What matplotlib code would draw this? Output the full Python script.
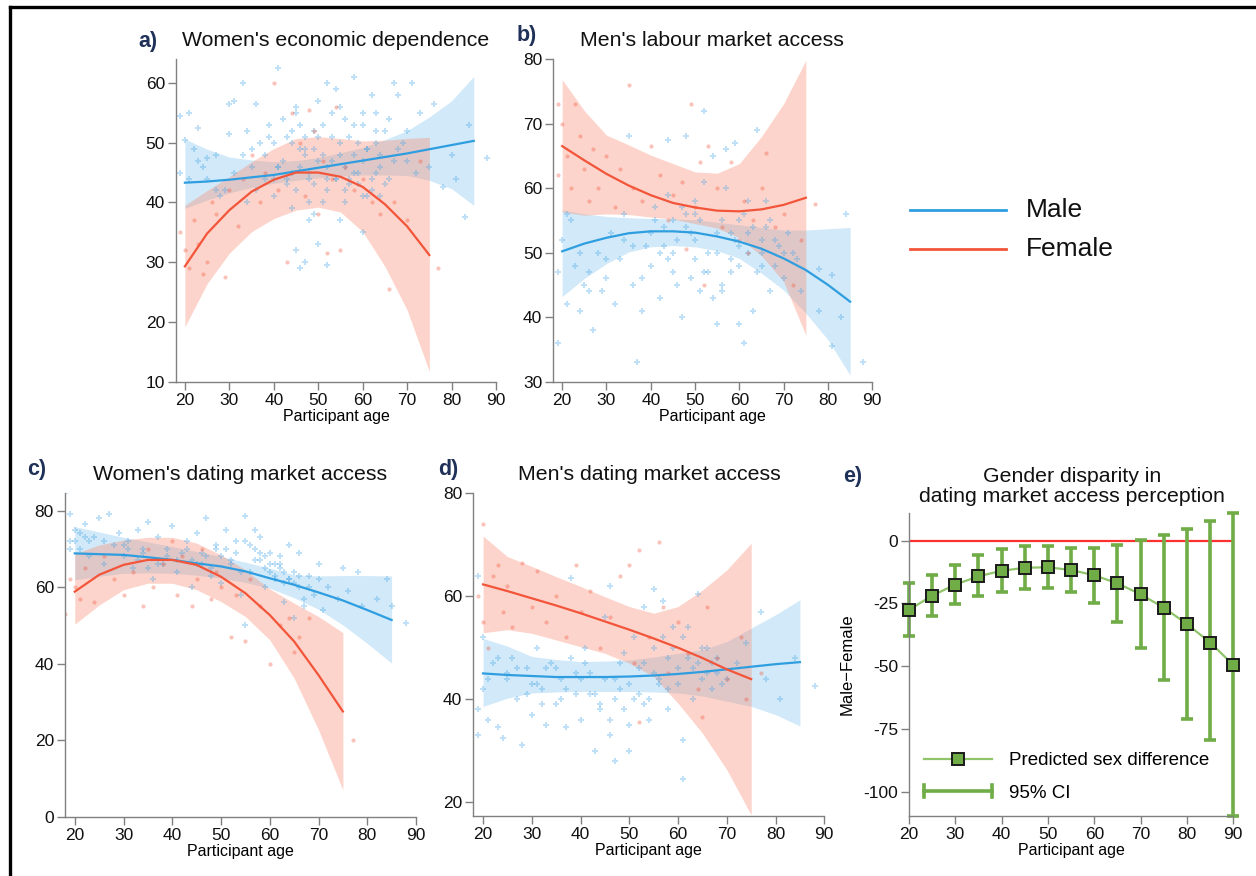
import matplotlib
matplotlib.use("Agg")
import matplotlib.pyplot as plt
from matplotlib.lines import Line2D
from matplotlib.legend_handler import HandlerBase
import numpy as np

plt.rcParams['font.family'] = ['Liberation Sans', 'DejaVu Sans']
plt.rcParams['axes.unicode_minus'] = False

# ---------------- data ----------------
ages_m = [20, 25, 30, 35, 40, 45, 50, 55, 60, 65, 70, 75, 80, 85]
ages_f = [20, 25, 30, 35, 40, 45, 50, 55, 60, 65, 70, 75]

# a) Women's economic dependence
a_m_fit = [43.3, 43.5, 43.8, 44.2, 44.6, 45.2, 45.8, 46.4, 47.0, 47.6, 48.2, 48.9, 49.6, 50.3]
a_m_lo = [39.0, 40.4, 41.6, 42.5, 43.2, 43.7, 44.1, 44.4, 44.6, 44.6, 44.5, 43.7, 42.3, 39.5]
a_m_hi = [50.6, 48.9, 47.6, 47.1, 46.8, 47.0, 47.5, 48.3, 49.2, 50.5, 52.0, 54.3, 57.0, 61.1]
a_f_fit = [29.3, 34.8, 38.7, 41.8, 43.8, 45.0, 45.0, 44.3, 42.6, 39.7, 36.0, 31.2]
a_f_lo = [19.2, 26.4, 31.5, 35.1, 37.3, 38.7, 39.2, 38.4, 35.1, 29.3, 22.0, 11.7]
a_f_hi = [39.5, 42.0, 44.3, 46.8, 49.0, 50.7, 51.0, 50.7, 50.3, 50.4, 50.7, 50.9]
a_m_pts_x = [19, 19, 20, 21, 22, 23, 24, 25, 27, 28, 30, 30, 31, 33, 34, 35, 36, 38, 39, 40, 41, 42, 43,
             44, 45, 45, 46, 46, 47, 47, 48, 49, 49, 50, 50, 51, 52, 52, 53, 54, 55, 55, 56, 57, 58, 58,
             59, 60, 60, 61, 62, 63, 63, 64, 65, 66, 67, 68, 68, 70, 71, 72, 73, 75, 76, 78, 80, 81, 83,
             84, 88, 42, 44, 46, 48, 50, 52, 54, 56, 58, 60, 62, 64, 38, 36, 34, 40, 44, 48, 52, 56, 60,
             66, 70, 25, 29, 33, 37, 41, 45, 49, 53, 57, 61, 65, 69,
             43, 47, 51, 55, 59, 63, 41, 45, 49, 53, 57, 61, 39, 43, 47, 51, 55, 59, 63, 67, 46, 50, 54,
             58, 62, 48, 52, 56, 44, 40, 60, 64, 35, 31, 27, 23, 21]
a_m_pts_y = [54.5, 45, 50.5, 55, 49, 52.5, 46, 44, 48, 41, 56.5, 51.5, 57, 60, 52, 46, 56.5, 48, 53, 50,
             62.5, 54, 44, 50, 32, 56, 29, 53, 48, 30, 37, 43, 52, 57, 33, 40, 60, 29.5, 47, 59, 37, 50,
             54, 43, 61, 48, 45, 53, 35, 41, 58, 50, 55, 46, 43, 54, 60, 49, 58, 52, 60, 45, 55, 46, 56.5,
             42.5, 48, 44, 37.5, 53, 47.5, 47, 45, 46, 44, 47, 46, 44, 46, 45, 47, 44, 48, 44, 42, 40,
             41, 39, 40, 42, 40, 41, 44, 47, 47.5, 42, 48, 50, 46, 42, 49, 51, 44, 49, 52, 50,
             51, 49, 53, 48, 50, 52, 46, 55, 38, 55, 51, 49, 51, 43, 51, 48, 56, 43, 45, 47, 49, 51, 44,
             53, 42, 45, 44, 42, 52, 44, 55, 41, 49, 45, 42, 47, 44]
a_f_pts_x = [19, 20, 21, 22, 23, 24, 25, 26, 27, 29, 30, 32, 33, 35, 37, 38, 40, 41, 43, 44, 46, 47, 48,
             49, 50, 51, 52, 53, 54, 55, 56, 58, 60, 62, 64, 66, 67, 70, 73, 77]
a_f_pts_y = [35, 32, 29, 37, 33, 28, 30, 40, 38, 27.5, 42, 36, 44, 48, 40, 45, 60, 42, 30, 55, 50, 41,
             55.5, 52, 38, 47, 31.5, 44, 56, 32, 46, 42, 44, 40, 38, 25.5, 40, 37, 47, 29]

# b) Men's labour market access
b_m_fit = [50.2, 51.4, 52.3, 53.0, 53.3, 53.3, 53.1, 52.5, 51.7, 50.6, 49.1, 47.3, 45.0, 42.4]
b_m_lo = [43.2, 46.0, 48.3, 50.1, 50.9, 51.1, 50.9, 50.3, 49.1, 46.8, 44.2, 40.6, 36.5, 31.0]
b_m_hi = [56.6, 56.0, 55.6, 55.4, 55.3, 55.2, 55.1, 54.7, 54.3, 53.9, 53.5, 53.5, 53.7, 53.9]
b_f_fit = [66.5, 64.3, 62.2, 60.4, 58.9, 57.7, 57.0, 56.5, 56.4, 56.7, 57.4, 58.5]
b_f_lo = [56.3, 55.8, 56.0, 55.9, 55.5, 55.2, 54.5, 53.8, 52.3, 49.5, 45.5, 37.2]
b_f_hi = [76.8, 72.0, 68.2, 66.7, 65.1, 63.8, 62.5, 62.3, 63.8, 68.0, 73.1, 79.8]
b_m_pts_x = [19, 19, 20, 21, 22, 23, 24, 25, 26, 27, 28, 30, 31, 32, 33, 34, 35, 36, 37, 38, 39, 40, 41,
             42, 43, 44, 45, 46, 47, 48, 49, 50, 51, 52, 53, 54, 55, 56, 57, 58, 59, 60, 61, 62, 63, 64,
             65, 66, 67, 68, 70, 72, 74, 78, 78, 81, 81, 83, 84, 88, 40, 45, 50, 55, 60, 65, 50, 45, 55,
             60, 42, 48, 58, 62, 68, 36, 44, 52, 56, 64, 70, 30, 26,
             41, 43, 47, 49, 51, 53, 57, 59, 61, 63, 65, 67, 69, 71, 73, 46, 50, 54, 58, 62, 66, 44, 48,
             52, 56, 60, 38, 34, 29, 24, 21]
b_m_pts_y = [36, 47, 52, 42, 55, 48, 41, 45, 44, 38, 50, 46, 53, 42, 49, 56, 68, 45, 33, 41, 51, 48, 57,
             43, 54, 67.5, 47, 52, 40, 68, 46, 56, 44, 72, 50, 65, 39, 55, 66, 49, 67, 39, 36, 53, 41, 69,
             48, 58, 44, 52, 46, 50, 44, 47.5, 41, 46.5, 35.5, 40, 56, 33, 53, 55, 52, 53, 51, 52, 49, 50,
             50, 55, 50, 54, 53, 50, 48, 51, 49, 47, 45, 47, 50, 49, 47,
             55, 51, 57, 53, 55, 47, 60, 52, 56, 54, 50, 55, 51, 53, 49, 45, 58, 43, 47, 58, 54, 59, 56,
             61, 44, 48, 46, 52, 44, 50, 56]
b_f_pts_x = [19, 19, 20, 21, 22, 23, 24, 25, 26, 27, 28, 30, 32, 33, 35, 36, 38, 40, 42, 44, 45, 47, 48,
             49, 50, 51, 52, 53, 55, 56, 58, 60, 61, 62, 63, 65, 66, 68, 70, 72, 74, 77]
b_f_pts_y = [73, 62, 70, 65, 60, 73, 68, 63, 58, 66, 60, 65, 57, 63, 76, 60, 58, 66.5, 62, 55, 59, 61,
             50.5, 73, 57, 64, 45, 66.5, 60, 54, 64, 52, 58, 50, 55, 60, 65.5, 54, 56, 45, 52, 57.5]

# c) Women's dating market access
c_m_fit = [68.8, 68.6, 68.4, 67.8, 67.1, 66.2, 65.4, 64.1, 62.3, 60.6, 58.6, 56.5, 54.0, 51.4]
c_m_lo = [61.9, 62.8, 63.6, 63.7, 63.6, 63.1, 62.3, 61.2, 59.7, 57.2, 54.2, 50.1, 45.3, 40.1]
c_m_hi = [75.8, 74.4, 73.0, 71.8, 70.6, 69.3, 68.0, 66.5, 64.9, 63.2, 62.9, 63.0, 63.0, 62.9]
c_f_fit = [58.8, 63.2, 65.8, 67.1, 67.1, 65.8, 62.7, 58.4, 52.7, 45.8, 37.0, 27.5]
c_f_lo = [50.3, 55.3, 59.3, 61.0, 61.0, 59.3, 56.2, 52.3, 46.2, 36.2, 22.7, 7.0]
c_f_hi = [68.7, 71.0, 72.3, 73.0, 73.0, 71.5, 68.4, 64.5, 59.5, 55.8, 52.3, 48.1]
c_m_pts_x = [18, 19, 19, 20, 21, 22, 23, 24, 25, 26, 27, 28, 29, 30, 31, 32, 33, 34, 35, 36, 37, 38, 39,
             40, 41, 42, 43, 44, 45, 46, 47, 48, 49, 50, 51, 52, 53, 54, 55, 56, 57, 58, 59, 60, 61, 62,
             63, 64, 65, 66, 67, 68, 69, 70, 71, 72, 74, 75, 76, 78, 79, 82, 84, 85, 88, 55, 65, 58, 60,
             62, 64, 66, 57, 59, 61, 63, 50, 52, 54, 44, 46, 48, 34, 30, 26, 22,
             56, 58, 60, 62, 64, 66, 68, 70, 57, 59, 61, 63, 65, 67, 53, 55, 51, 49, 47, 45, 43, 41, 39,
             37, 35, 33, 31, 20, 19, 21, 23]
c_m_pts_y = [84.5, 79, 72, 75, 70, 76.5, 68, 73, 78, 66, 79, 71, 74, 68, 72, 65, 75, 69, 77, 62, 73, 66,
             70, 76, 64, 69, 72, 60, 74, 66, 78, 63, 70, 61, 75, 67, 72, 58, 78.5, 64, 75, 69, 60, 66, 62,
             68, 56, 71, 61, 69, 55, 63, 58, 66, 54, 60, 57, 65, 59, 64, 55, 57, 62, 55, 50.5, 50, 52,
             67, 64, 65, 62, 63, 70, 68, 66, 64, 68, 66, 64, 67, 69, 65, 70, 71, 72, 73,
             71, 73, 69, 66, 62, 60, 60, 62, 67, 65, 63, 61, 64, 57, 69, 72, 70, 71, 68, 66, 70, 67, 68,
             66, 65, 67, 70, 72, 70, 74, 72]
c_f_pts_x = [18, 19, 20, 21, 22, 24, 26, 28, 30, 32, 34, 35, 36, 38, 40, 41, 42, 44, 45, 46, 48, 49, 50,
             52, 53, 55, 56, 58, 60, 62, 64, 65, 66, 68, 77]
c_f_pts_y = [53, 62, 60, 57, 65, 56, 68, 62, 58, 64, 55, 70, 60, 66, 72, 58, 68, 55, 62, 70, 57, 64, 60,
             47, 58, 46, 62, 55, 40, 50, 52, 43, 47, 52, 20]

# d) Men's dating market access
d_m_fit = [45.0, 44.7, 44.5, 44.3, 44.3, 44.3, 44.4, 44.6, 44.9, 45.3, 45.8, 46.3, 46.8, 47.2]
d_m_lo = [38.6, 40.2, 41.2, 41.4, 41.5, 41.5, 41.5, 41.4, 41.2, 40.6, 39.6, 38.6, 37.0, 34.8]
d_m_hi = [51.8, 50.3, 48.3, 47.7, 47.3, 47.4, 47.6, 48.2, 48.9, 49.6, 51.2, 53.8, 56.4, 59.3]
d_f_fit = [62.3, 61.0, 59.6, 58.2, 56.7, 55.1, 53.5, 51.8, 50.0, 48.0, 45.8, 43.9]
d_f_lo = [52.9, 53.5, 52.8, 51.5, 50.2, 48.9, 47.0, 44.4, 39.2, 33.4, 26.3, 17.5]
d_f_hi = [71.7, 67.7, 65.8, 63.8, 61.9, 59.9, 58.0, 56.7, 58.0, 61.2, 65.1, 70.3]
d_m_pts_x = [19, 19, 19, 20, 20, 21, 22, 23, 24, 25, 26, 27, 28, 29, 30, 31, 32, 33, 34, 35, 36, 37, 38,
             38, 39, 40, 41, 42, 43, 44, 45, 46, 46, 47, 48, 49, 50, 51, 52, 53, 54, 55, 56, 57, 58, 59,
             60, 61, 62, 63, 64, 65, 66, 67, 68, 70, 72, 74, 77, 78, 81, 84, 88, 61, 45, 50, 55, 60, 40,
             35, 30, 25, 48, 52, 56, 64, 68, 42, 47, 53, 58,
             21, 23, 27, 29, 31, 33, 37, 39, 41, 43, 47, 49, 51, 53, 55, 57, 59, 61, 63, 65, 67, 69, 44,
             46, 50, 54, 58, 62, 66, 36, 32]
d_m_pts_y = [64, 38, 33, 52, 42, 36, 47, 34.5, 32.5, 44, 48, 40, 31, 46, 37, 50, 42, 35, 47, 39, 44, 34.5,
             63.5, 48, 41, 36, 50, 45, 30, 39, 56, 33, 62, 28, 47, 38, 30, 52, 41, 58, 36, 61.5, 43, 59,
             38, 50, 46, 32, 48, 40, 60.5, 44, 50, 42, 48, 44, 47, 51, 57, 44, 40, 48, 42.5, 24.5, 44,
             43, 45, 43, 44, 46, 43, 45, 42, 46, 44, 47, 45, 41, 40, 39, 42,
             44, 48, 46, 41, 43, 46, 42, 45, 47, 41, 44, 49, 40, 47, 50, 52, 54, 52, 46, 50, 47, 43, 38,
             36, 35, 40, 48, 54, 45, 40, 39]
d_f_pts_x = [19, 20, 20, 21, 22, 23, 24, 25, 26, 28, 30, 31, 33, 35, 37, 39, 40, 42, 44, 46, 48, 50, 51,
             52, 52, 54, 56, 57, 58, 60, 62, 64, 65, 66, 68, 70, 73, 74, 77]
d_f_pts_y = [60, 74, 55, 50, 64, 66, 57, 62, 54, 66.5, 58, 65, 55, 60, 52, 66, 57, 61, 50, 56, 64, 66, 47,
             69, 35.5, 52, 70.5, 58, 45, 55, 49, 42, 36.5, 58, 48, 44, 52, 40, 45]

# e) Gender disparity
e_age = [20, 25, 30, 35, 40, 45, 50, 55, 60, 65, 70, 75, 80, 85, 90]
e_diff = [-27.6, -21.9, -17.5, -14.2, -12.0, -10.8, -10.6, -11.7, -13.8, -17.0, -21.4, -26.7, -33.2, -40.6, -49.5]
e_ci_hi = [-16.7, -13.8, -9.7, -5.8, -3.2, -2.1, -2.1, -2.8, -2.8, -1.9, 0.1, 2.3, 4.8, 7.8, 11.2]
e_ci_lo = [-38.0, -29.9, -25.1, -22.2, -20.6, -19.3, -19.0, -20.6, -25.0, -32.3, -42.6, -55.5, -71.2, -79.5, -109.7]

# ---------------- style ----------------
BLUE = '#2f9ee0'
RED = '#f2553a'
NAVY = '#1f3158'
SPINE = '#808080'
GREEN = '#70ad47'
GREEN_LINE = '#8fc46a'
TICK_FS = 12.5
LABEL_FS = 11.5

W, H = 1256, 876
fig = plt.figure(figsize=(W / 100, H / 100), dpi=100)


def fr(left, top, right, bottom):
    return [left / W, 1 - bottom / H, (right - left) / W, (bottom - top) / H]


def style_axes(ax):
    for s in ['top', 'right']:
        ax.spines[s].set_visible(False)
    for s in ['left', 'bottom']:
        ax.spines[s].set_color(SPINE)
        ax.spines[s].set_linewidth(1.0)
    ax.tick_params(colors=SPINE, labelcolor='#111111', labelsize=TICK_FS, length=6, width=1.0, pad=2)
    ax.set_facecolor('none')


def panel(ax, m_fit, m_lo, m_hi, f_fit, f_lo, f_hi, mx, my, fx, fy, ylim, yticks):
    ax.fill_between(ages_m, m_lo, m_hi, color='#5ab0e6', alpha=0.28, lw=0, zorder=1)
    ax.fill_between(ages_f, f_lo, f_hi, color='#fa8a70', alpha=0.36, lw=0, zorder=1)
    ax.scatter(mx, my, s=14, marker='P', color='#4aa8e6', alpha=0.35, lw=0, zorder=2)
    ax.scatter(fx, fy, s=9, marker='o', color='#f2553a', alpha=0.35, lw=0, zorder=2)
    ax.plot(ages_m, m_fit, color=BLUE, lw=1.6, zorder=3)
    ax.plot(ages_f, f_fit, color=RED, lw=1.6, zorder=3)
    ax.set_xlim(18, 90)
    ax.set_ylim(*ylim)
    ax.set_xticks([20, 30, 40, 50, 60, 70, 80, 90])
    ax.set_yticks(yticks)
    ax.set_xlabel('Participant age', fontsize=LABEL_FS, labelpad=1)
    style_axes(ax)


ax_a = fig.add_axes(fr(176, 59, 496, 381.7))
panel(ax_a, a_m_fit, a_m_lo, a_m_hi, a_f_fit, a_f_lo, a_f_hi,
      a_m_pts_x, a_m_pts_y, a_f_pts_x, a_f_pts_y, (10, 64), [10, 20, 30, 40, 50, 60])

ax_b = fig.add_axes(fr(553.3, 59, 872.3, 381.7))
panel(ax_b, b_m_fit, b_m_lo, b_m_hi, b_f_fit, b_f_lo, b_f_hi,
      b_m_pts_x, b_m_pts_y, b_f_pts_x, b_f_pts_y, (30, 80), [30, 40, 50, 60, 70, 80])

ax_c = fig.add_axes(fr(65, 493.3, 416, 816.7))
panel(ax_c, c_m_fit, c_m_lo, c_m_hi, c_f_fit, c_f_lo, c_f_hi,
      c_m_pts_x, c_m_pts_y, c_f_pts_x, c_f_pts_y, (0, 84.5), [0, 20, 40, 60, 80])

ax_d = fig.add_axes(fr(473.3, 493.3, 824.3, 816))
panel(ax_d, d_m_fit, d_m_lo, d_m_hi, d_f_fit, d_f_lo, d_f_hi,
      d_m_pts_x, d_m_pts_y, d_f_pts_x, d_f_pts_y, (17.3, 80), [20, 40, 60, 80])


# panel e
class HandlerCI(HandlerBase):
    def create_artists(self, legend, orig_handle, xdescent, ydescent, width, height, fontsize, trans):
        y = height / 2 - ydescent
        cap = height * 0.45
        line = Line2D([-xdescent, width - xdescent], [y, y], color=GREEN, lw=2.6, transform=trans)
        c1 = Line2D([-xdescent, -xdescent], [y - cap, y + cap], color=GREEN, lw=2.6, transform=trans)
        c2 = Line2D([width - xdescent, width - xdescent], [y - cap, y + cap], color=GREEN, lw=2.6,
                    transform=trans)
        return [line, c1, c2]


ax_e = fig.add_axes(fr(909, 513.3, 1233.3, 816))
ax_e.axhline(0, color='#ff3030', lw=1.6, zorder=1)
diff = np.array(e_diff)
yerr = np.vstack([diff - np.array(e_ci_lo), np.array(e_ci_hi) - diff])
eb = ax_e.errorbar(e_age, e_diff, yerr=yerr, fmt='none', ecolor=GREEN, elinewidth=2.6,
                   capsize=4, capthick=2.6, zorder=2)
for part in eb.lines[1] + eb.lines[2]:
    part.set_clip_on(False)
ln, = ax_e.plot(e_age, e_diff, color=GREEN_LINE, lw=1.6, marker='s', ms=9,
                mfc=GREEN, mec='#1a1a1a', mew=1.4, zorder=3, clip_on=False)
ax_e.set_xlim(20, 90)
ax_e.set_ylim(-109.7, 10.9)
ax_e.set_xticks([20, 30, 40, 50, 60, 70, 80, 90])
ax_e.set_yticks([0, -25, -50, -75, -100])
ax_e.set_xlabel('Participant age', fontsize=LABEL_FS, labelpad=1)
ax_e.set_ylabel('Male\u2212Female', fontsize=12, labelpad=6)
style_axes(ax_e)
ci_handle = Line2D([], [], color=GREEN)
ax_e.legend(handles=[ln, ci_handle], labels=['Predicted sex difference', '95% CI'],
            handler_map={ci_handle: HandlerCI()},
            loc='lower left', frameon=False, fontsize=13.5,
            handlelength=3.6, handletextpad=0.95, labelspacing=0.82,
            borderaxespad=0.2, bbox_to_anchor=(0.012, 0.01))


# titles
def title(xc, y, text, size=15.3):
    fig.text(xc / W, 1 - y / H, text, ha='center', va='center', fontsize=size, color='#111111')


def tag(x, y, text):
    fig.text(x / W, 1 - y / H, text, ha='left', va='center', fontsize=15.5,
             fontweight='bold', color=NAVY)


tag(138, 41, 'a)')
title(336, 41, "Women's economic dependence")
tag(517, 35, 'b)')
title(712, 41, "Men's labour market access")
tag(27, 470, 'c)')
title(240, 475, "Women's dating market access")
tag(843, 477, 'e)')
tag(438, 470, 'd)')
title(649, 475, "Men's dating market access")
title(1072, 476, "Gender disparity in")
title(1072, 497, "dating market access perception")

# global legend
for yy, col, lab in [(210, BLUE, 'Male'), (249, RED, 'Female')]:
    fig.add_artist(Line2D([910 / W, 1006 / W], [1 - yy / H, 1 - yy / H], color=col, lw=2))
    fig.text(1026 / W, 1 - yy / H, lab, ha='left', va='center', fontsize=19, color='#111111')

# black frame (left and top)
fig.add_artist(Line2D([10 / W, 10 / W], [0, 1 - 7 / H], color='black', lw=2.4))
fig.add_artist(Line2D([10 / W, 1.0], [1 - 7 / H, 1 - 7 / H], color='black', lw=2.4))

fig.savefig('out.png', dpi=100, facecolor='white')
